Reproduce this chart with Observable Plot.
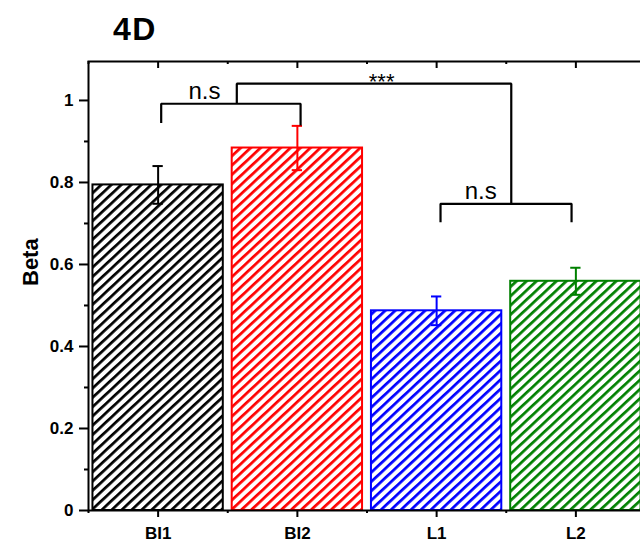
<!DOCTYPE html>
<html>
<head>
<meta charset="utf-8">
<script src="https://cdn.jsdelivr.net/npm/d3@7"></script>
<script src="https://cdn.jsdelivr.net/npm/@observablehq/plot@0.6"></script>
<style>
  html, body { margin: 0; padding: 0; background: #fff; overflow: hidden; }
  body { width: 640px; height: 543px; font-family: "Liberation Sans", Arial, sans-serif; }
  #title { box-sizing: border-box; height: 45px; padding: 13px 0 0 113px; font-size: 32px; font-weight: bold; line-height: 1; letter-spacing: 1.5px; color: #000; }
  #chart { width: 640px; overflow: hidden; }
  #chart svg { max-width: none !important; display: block; }
</style>
</head>
<body>
<div id="title">4D</div>
<svg id="patterns" width="0" height="0" style="position:absolute"><defs></defs></svg>
<div id="chart"></div>
<script>
// Group means of Beta with their error values
const categories = ["BI1", "BI2", "L1", "L2"];
const betaMeans = [0.794, 0.884, 0.487, 0.559];
const betaErrors = [0.046, 0.054, 0.035, 0.033];
const barColors = ["#000000", "#ff0000", "#0000ff", "#008000"];

// Axis ticks
const yMax = 1.095;
const yTicks = [0, 0.2, 0.4, 0.6, 0.8, 1];
const yMinorTicks = [0.1, 0.3, 0.5, 0.7, 0.9];
const xPositions = [1, 2, 3, 4];
const xBoundaries = [0.5, 1.5, 2.5, 3.5, 4.5];

// Significance brackets (x in group index units, y in Beta units)
const bracketBI = [[1.022, 0.945], [1.022, 0.992], [2.023, 0.992], [2.023, 0.939]];
const bracketL = [[3.028, 0.703], [3.028, 0.748], [3.969, 0.748], [3.969, 0.703]];
const bracketBIvsL = [[1.565, 0.992], [1.565, 1.041], [3.536, 1.041], [3.536, 0.748]];
const bracketTexts = ["n.s", "***", "n.s"];
const bracketTextX = [1.333, 2.605, 3.316];
const bracketTextY = [0.992, 1.041, 0.748];

const rows = categories.map((name, i) => ({
  name, pos: i + 1, mean: betaMeans[i], err: betaErrors[i], color: barColors[i]
}));

const bracketRows = [
  ...bracketBI.map(([x, y]) => ({group: "BI", x, y})),
  ...bracketL.map(([x, y]) => ({group: "L", x, y})),
  ...bracketBIvsL.map(([x, y]) => ({group: "BIvsL", x, y}))
];
const labelRows = bracketTexts.map((text, i) => ({text, x: bracketTextX[i], y: bracketTextY[i], i}));

// Diagonal hatch fills, one per bar colour
const defs = document.querySelector("#patterns defs");
barColors.forEach((c, i) => {
  const ns = "http://www.w3.org/2000/svg";
  const p = document.createElementNS(ns, "pattern");
  p.setAttribute("id", `hatch-${i}`);
  p.setAttribute("patternUnits", "userSpaceOnUse");
  p.setAttribute("width", "6.8");
  p.setAttribute("height", "6.8");
  p.setAttribute("patternTransform", "rotate(47)");
  const bg = document.createElementNS(ns, "rect");
  bg.setAttribute("width", "6.8"); bg.setAttribute("height", "6.8"); bg.setAttribute("fill", "#fff");
  const r = document.createElementNS(ns, "rect");
  r.setAttribute("x", "0"); r.setAttribute("width", "2.7"); r.setAttribute("height", "6.8"); r.setAttribute("fill", c);
  p.appendChild(bg); p.appendChild(r);
  defs.appendChild(p);
});

const W = 660, H = 498;
const margin = {left: 88, right: 15, top: 16, bottom: 33};
const halfBar = 0.468;
const capHalf = 0.037;
// convert a pixel length into Beta units along the y scale
const pxToY = px => px * yMax / (H - margin.top - margin.bottom);
const font = {fontFamily: "'Liberation Sans', Arial, sans-serif"};

const plot = Plot.plot({
  width: W,
  height: H,
  marginLeft: margin.left,
  marginRight: margin.right,
  marginTop: margin.top,
  marginBottom: margin.bottom,
  style: {...font, background: "#fff", color: "#000", overflow: "visible", maxWidth: "none"},
  x: {type: "linear", domain: [0.5, 4.5]},
  y: {domain: [0, yMax]},
  color: {type: "identity"},
  marks: [
    // bars
    ...rows.map((d, i) => Plot.rectY([d], {
      x1: r => r.pos - halfBar, x2: r => r.pos + halfBar, y1: 0, y2: "mean",
      fill: `url(#hatch-${i})`, stroke: barColors[i], strokeWidth: 2
    })),
    // error bars
    Plot.ruleX(rows, {x: "pos", y1: d => d.mean - d.err, y2: d => d.mean + d.err, stroke: "color", strokeWidth: 2}),
    Plot.ruleY(rows, {y: d => d.mean + d.err, x1: d => d.pos - capHalf, x2: d => d.pos + capHalf, stroke: "color", strokeWidth: 2}),
    Plot.ruleY(rows, {y: d => d.mean - d.err, x1: d => d.pos - capHalf, x2: d => d.pos + capHalf, stroke: "color", strokeWidth: 2}),
    // significance brackets
    Plot.line(bracketRows, {x: "x", y: "y", z: "group", stroke: "#000", strokeWidth: 2.2, strokeLinejoin: "miter", strokeLinecap: "butt"}),
    Plot.text(labelRows.filter(d => d.text !== "***"), {x: "x", y: "y", text: "text", lineAnchor: "bottom", dy: -5, fontSize: 24, fill: "#000"}),
    Plot.text(labelRows.filter(d => d.text === "***"), {x: "x", y: "y", text: "text", lineAnchor: "bottom", dy: 5, fontSize: 22, fill: "#000"}),
    // axes
    Plot.axisY({ticks: yTicks, tickSize: 9, tickPadding: 6, strokeWidth: 2, fontSize: 17, fontWeight: "bold", label: null, tickFormat: d => `${d}`}),
    Plot.axisY({ticks: yMinorTicks, tickSize: 4, strokeWidth: 2, fill: "none", label: null}),
    Plot.axisX({ticks: xPositions, tickSize: 7, tickPadding: 9, strokeWidth: 2, fontSize: 17, fontWeight: "bold", label: null, tickFormat: d => categories[d - 1]}),
    Plot.axisX({ticks: xBoundaries, tickSize: 3, strokeWidth: 2, fill: "none", label: null}),
    // inward ticks along the top edge
    Plot.ruleX(xPositions, {x: d => d, y1: yMax, y2: yMax - pxToY(7), stroke: "#000", strokeWidth: 2}),
    Plot.ruleX(xBoundaries, {x: d => d, y1: yMax, y2: yMax - pxToY(3), stroke: "#000", strokeWidth: 2}),
    Plot.frame({stroke: "#000", strokeWidth: 2}),
    // y-axis title
    Plot.text(["Beta"], {frameAnchor: "left", dx: -58, rotate: -90, fontSize: 22, fontWeight: "bold", fill: "#000"})
  ]
});

document.getElementById("chart").appendChild(plot);
</script>
</body>
</html>
